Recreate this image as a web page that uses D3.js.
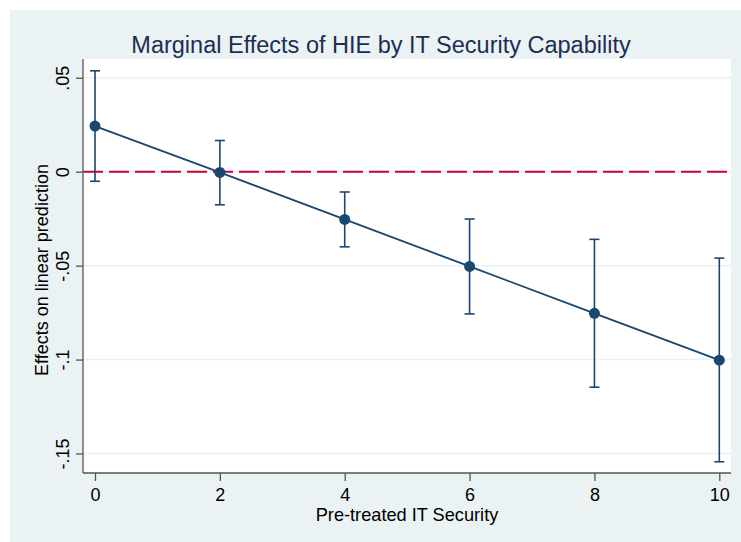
<!DOCTYPE html>
<html>
<head>
<meta charset="utf-8">
<script src="https://cdn.jsdelivr.net/npm/d3@7"></script>
<style>
  html, body { margin: 0; padding: 0; background: #ffffff; }
  svg { display: block; }
  text { font-family: "Liberation Sans", Arial, sans-serif; }
</style>
</head>
<body>
<svg id="chart" width="741" height="542"></svg>
<script>
// Pre-treated IT security levels and the marginal effect of HIE at each
const itSecurity = [0, 2, 4, 6, 8, 10];
const effect     = [0.0243, -0.0004, -0.0254, -0.0504, -0.0754, -0.1003];
const ciUpper    = [0.0537, 0.0166, -0.0108, -0.0252, -0.0360, -0.0460];
const ciLower    = [-0.0051, -0.0176, -0.0400, -0.0757, -0.1147, -0.1544];

const xTicks = [0, 2, 4, 6, 8, 10];
const yTicks = [0.05, 0, -0.05, -0.1, -0.15];
const yTickLabels = [".05", "0", "-.05", "-.1", "-.15"];

const titleText = "Marginal Effects of HIE by IT Security Capability";
const xTitle = "Pre-treated IT Security";
const yTitle = "Effects on linear prediction";

const navy = "#1a476f";
const svg = d3.select("#chart");

// graph region background
svg.append("rect")
  .attr("x", 10).attr("y", 10).attr("width", 731).attr("height", 532)
  .attr("fill", "#eaf2f3");

const plot = { left: 83, right: 731, top: 59, bottom: 473 };

svg.append("rect")
  .attr("x", plot.left).attr("y", plot.top)
  .attr("width", plot.right - plot.left).attr("height", plot.bottom - plot.top)
  .attr("fill", "#ffffff");

const x = d3.scaleLinear().domain([0, 10]).range([95, 719.3]);
const y = d3.scaleLinear().domain([0, -0.15]).range([171.7, 453.5]);

// horizontal grid lines
svg.append("g").selectAll("line").data(yTicks).join("line")
  .attr("x1", plot.left).attr("x2", plot.right)
  .attr("y1", d => y(d)).attr("y2", d => y(d))
  .attr("stroke", "#eaf2f3").attr("stroke-width", 1.5);

// reference line at zero
svg.append("line")
  .attr("x1", plot.left).attr("x2", plot.right)
  .attr("y1", y(0)).attr("y2", y(0))
  .attr("stroke", "#c10534").attr("stroke-width", 2)
  .attr("stroke-dasharray", "20,6");

// axes
const yAxis = d3.axisLeft(y).tickValues(yTicks).tickSize(7).tickPadding(6)
  .tickFormat((d, i) => yTickLabels[i]);
const gy = svg.append("g").attr("transform", `translate(${plot.left},0)`).call(yAxis);
gy.select(".domain").attr("d", `M0,${plot.top}V${plot.bottom}`).attr("stroke", "#555").attr("stroke-width", 1.3);
gy.selectAll(".tick line").attr("stroke", "#555").attr("stroke-width", 1.3);
gy.selectAll(".tick text")
  .attr("font-size", 18).attr("fill", "#000")
  .attr("transform", "rotate(-90)")
  .attr("x", 0).attr("y", -14)
  .attr("dy", 0)
  .attr("text-anchor", "middle");

const xAxis = d3.axisBottom(x).tickValues(xTicks).tickSize(8).tickPadding(7)
  .tickFormat(d3.format("d"));
const gx = svg.append("g").attr("transform", `translate(0,${plot.bottom})`).call(xAxis);
gx.select(".domain").attr("d", `M${plot.left},0H${plot.right}`).attr("stroke", "#555").attr("stroke-width", 1.3);
gx.selectAll(".tick line").attr("stroke", "#555").attr("stroke-width", 1.3);
gx.selectAll(".tick text").attr("font-size", 18).attr("fill", "#000");

// confidence intervals
const ci = svg.append("g").attr("stroke", navy).attr("stroke-width", 1.6).attr("fill", "none");
itSecurity.forEach((v, i) => {
  const cx = x(v);
  ci.append("line").attr("x1", cx).attr("x2", cx).attr("y1", y(ciUpper[i])).attr("y2", y(ciLower[i]));
  ci.append("line").attr("x1", cx - 5).attr("x2", cx + 5).attr("y1", y(ciUpper[i])).attr("y2", y(ciUpper[i]));
  ci.append("line").attr("x1", cx - 5).attr("x2", cx + 5).attr("y1", y(ciLower[i])).attr("y2", y(ciLower[i]));
});

// connected estimates
const pts = itSecurity.map((v, i) => [v, effect[i]]);
svg.append("path")
  .attr("d", d3.line().x(d => x(d[0])).y(d => y(d[1]))(pts))
  .attr("fill", "none").attr("stroke", navy).attr("stroke-width", 1.8);

svg.append("g").selectAll("circle").data(pts).join("circle")
  .attr("cx", d => x(d[0])).attr("cy", d => y(d[1])).attr("r", 5.5)
  .attr("fill", navy);

// titles
svg.append("text")
  .attr("x", 381).attr("y", 53)
  .attr("text-anchor", "middle")
  .attr("font-size", 23.5).attr("fill", "#1e2d54")
  .text(titleText);

svg.append("text")
  .attr("x", 407).attr("y", 521)
  .attr("text-anchor", "middle")
  .attr("font-size", 18.2).attr("fill", "#000")
  .text(xTitle);

svg.append("text")
  .attr("transform", `translate(48,${(plot.top + plot.bottom) / 2 + 4}) rotate(-90)`)
  .attr("text-anchor", "middle")
  .attr("font-size", 18).attr("fill", "#000")
  .text(yTitle);
</script>
</body>
</html>
